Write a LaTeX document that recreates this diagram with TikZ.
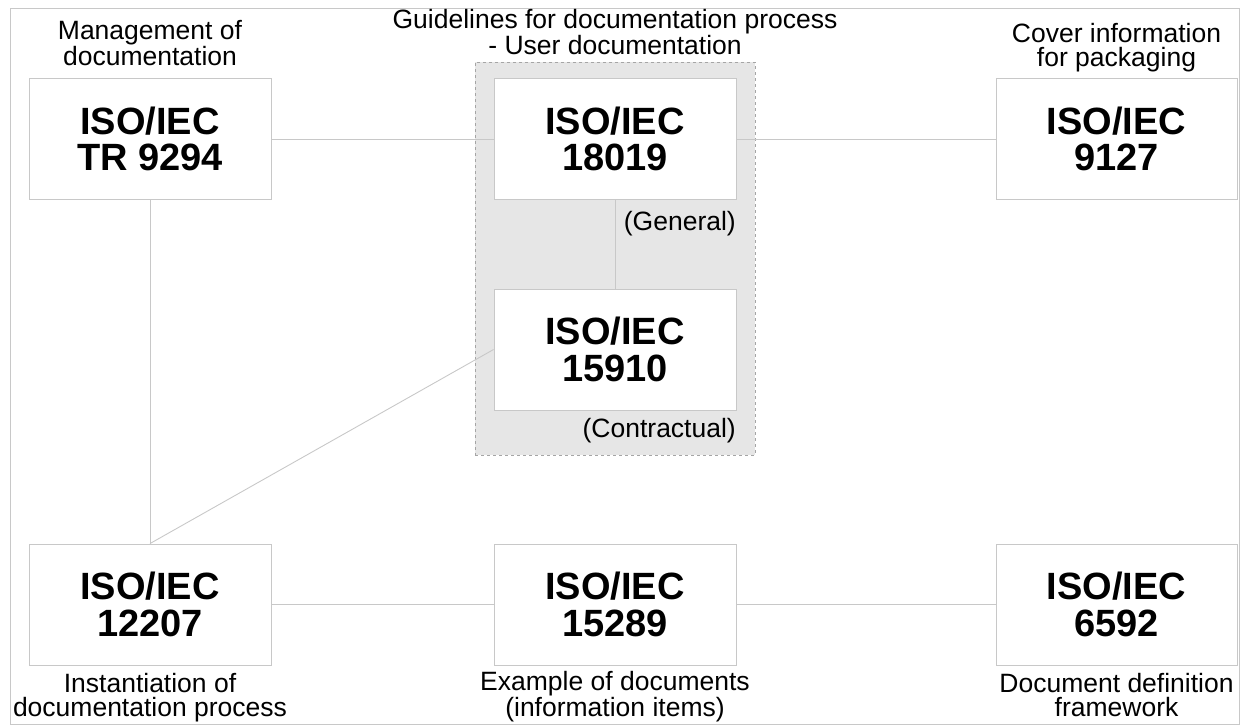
\documentclass[tikz,border=0pt]{standalone}
\usepackage{fontspec}
\setmainfont{Liberation Sans}
\usetikzlibrary{positioning}
\definecolor{edge}{RGB}{200,200,200}
\definecolor{grpfill}{RGB}{230,230,230}
\definecolor{grpedge}{RGB}{165,165,165}
\tikzset{
  isobox/.style={draw=edge, line width=0.9pt, fill=white, minimum width=242pt, minimum height=121pt,
    inner sep=0pt, align=center, font=\fontsize{38}{36.5}\selectfont\bfseries},
  lbl/.style={inner sep=0pt, align=center, anchor=base, font=\fontsize{26.5}{24.5}\selectfont},
  link/.style={draw=edge, line width=0.9pt},
}
\begin{document}
\begin{tikzpicture}[x=1pt,y=-1pt]
\useasboundingbox (0,0) rectangle (1249,726);
\draw[edge, line width=1pt] (10,8) rectangle (1239,724);
\node[draw=grpedge, dashed, fill=grpfill, line width=0.8pt, minimum width=280pt, minimum height=393pt, inner sep=0pt] (grp) at (615,258.5) {};
\node[isobox] (tr) at (150,139) {ISO/IEC\\TR 9294};
\node[isobox] (g18) at (615,139) {ISO/IEC\\18019};
\node[isobox, minimum width=241pt] (c9127) at (1116.5,139) {ISO/IEC\\9127};
\node[isobox] (c15910) at (615,349.5) {ISO/IEC\\15910};
\node[isobox] (c12207) at (150,604.5) {ISO/IEC\\12207};
\node[isobox] (c15289) at (615,604.5) {ISO/IEC\\15289};
\node[isobox, minimum width=241pt] (c6592) at (1116.5,604.5) {ISO/IEC\\6592};
\draw[link] (tr) -- (g18);
\draw[link] (g18) -- (c9127);
\draw[link] (g18) -- (c15910);
\draw[link] (tr) -- (c12207);
\draw[link] (c12207.north) -- (c15910.west);
\draw[link] (c12207) -- (c15289);
\draw[link] (c15289) -- (c6592);
\node[lbl] (l1) at (150,65.5) {Management of\\documentation};
\node[lbl] (l2) at (615,54.5) {Guidelines for documentation process\\- User documentation};
\node[lbl] (l3) at (1116.5,66.5) {Cover information\\for packaging};
\node[lbl, anchor=base east] (l4) at (736,230) {(General)};
\node[lbl, anchor=base east] (l5) at (736,437) {(Contractual)};
\node[lbl] (l6) at (150,716.5) {Instantiation of\\documentation process};
\node[lbl] (l7) at (615,716.5) {Example of documents\\(information items)};
\node[lbl] (l8) at (1116.5,716.5) {Document definition\\framework};
\end{tikzpicture}
\end{document}
